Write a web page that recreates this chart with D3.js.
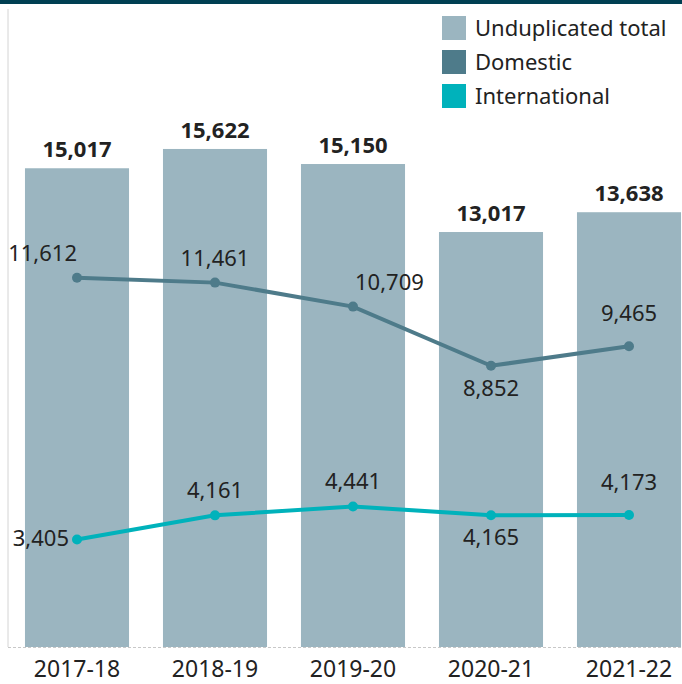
<!DOCTYPE html>
<html>
<head>
<meta charset="utf-8">
<script src="https://cdn.jsdelivr.net/npm/d3@7"></script>
<style>
  body { margin: 0; background: #fff; }
  svg { display: block; font-family: 'Noto Sans', sans-serif; }
</style>
</head>
<body>
<svg id="chart"></svg>
<script>
const years = ['2017-18', '2018-19', '2019-20', '2020-21', '2021-22'];
const totals = [15017, 15622, 15150, 13017, 13638];
const domestic = [11612, 11461, 10709, 8852, 9465];
const international = [3405, 4161, 4441, 4165, 4173];
const legendLabels = ['Unduplicated total', 'Domestic', 'International'];

// where each line label sits relative to its point
const domesticPlace = ['aboveLeft', 'above', 'aboveRight', 'below', 'aboveHigh'];
const intlPlace = ['left', 'above', 'above', 'below', 'aboveHigh'];

const COLORS = { bar: '#9bb5c0', dom: '#4e7b8a', intl: '#00b2bb', top: '#003f52', text: '#222' };

const width = 682, height = 684;
const baseY = 647, axisX = 8;

const svg = d3.select('#chart').attr('width', width).attr('height', height);

// top banner
svg.append('rect').attr('x', 0).attr('y', 0).attr('width', width).attr('height', 4).attr('fill', COLORS.top);

const x = d3.scaleBand().domain(years).range([axisX, axisX + 690]).paddingInner(0.246).paddingOuter(0.123);
const y = d3.scaleLinear().domain([0, 20000]).range([baseY, baseY - 637.6]);

// left axis line
svg.append('line')
  .attr('x1', axisX).attr('x2', axisX)
  .attr('y1', 9).attr('y2', baseY)
  .attr('stroke', '#d4d4d4').attr('stroke-width', 1);

// bars
svg.selectAll('.bar')
  .data(totals)
  .enter()
  .append('rect')
  .attr('x', (d, i) => x(years[i]))
  .attr('width', x.bandwidth())
  .attr('y', d => y(d))
  .attr('height', d => baseY - y(d))
  .attr('fill', COLORS.bar);

// baseline
svg.append('line')
  .attr('x1', axisX).attr('x2', width)
  .attr('y1', baseY + 0.5).attr('y2', baseY + 0.5)
  .attr('stroke', '#c8c8c8').attr('stroke-dasharray', '3,2');

// bar totals
svg.selectAll('.total')
  .data(totals)
  .enter()
  .append('text')
  .attr('x', (d, i) => x(years[i]) + x.bandwidth() / 2)
  .attr('y', d => y(d) - 11)
  .attr('text-anchor', 'middle')
  .attr('font-size', 22)
  .attr('font-weight', 'bold')
  .attr('fill', COLORS.text)
  .text(d3.format(','));

// x axis
const xAxis = svg.append('g')
  .attr('transform', 'translate(0,' + baseY + ')')
  .call(d3.axisBottom(x).tickSize(0).tickPadding(14));
xAxis.select('.domain').remove();
xAxis.selectAll('text')
  .attr('font-family', "'Noto Sans', sans-serif")
  .attr('font-size', 23)
  .attr('fill', COLORS.text);

const cx = i => x(years[i]) + x.bandwidth() / 2;

const drawLine = (values, color, places) => {
  svg.append('path')
    .datum(values)
    .attr('fill', 'none')
    .attr('stroke', color)
    .attr('stroke-width', 4)
    .attr('d', d3.line().x((d, i) => cx(i)).y(d => y(d) + 1));

  svg.selectAll(null)
    .data(values)
    .enter()
    .append('circle')
    .attr('cx', (d, i) => cx(i))
    .attr('cy', d => y(d) + 1)
    .attr('r', 5)
    .attr('fill', color);

  svg.selectAll(null)
    .data(values)
    .enter()
    .append('text')
    .attr('font-size', 22)
    .attr('fill', COLORS.text)
    .attr('x', (d, i) => {
      const p = places[i];
      if (p === 'left') return cx(i) - 8;
      if (p === 'aboveLeft') return cx(i);
      if (p === 'aboveRight') return cx(i) + 2;
      return cx(i);
    })
    .attr('y', (d, i) => {
      const p = places[i];
      if (p === 'left') return y(d) + 8;
      if (p === 'below') return y(d) + 31;
      if (p === 'aboveHigh') return y(d) - 24;
      return y(d) - 16;
    })
    .attr('text-anchor', (d, i) => {
      const p = places[i];
      if (p === 'left' || p === 'aboveLeft') return 'end';
      if (p === 'aboveRight') return 'start';
      return 'middle';
    })
    .text(d3.format(','));
};

drawLine(domestic, COLORS.dom, domesticPlace);
drawLine(international, COLORS.intl, intlPlace);

// legend
const legendColors = [COLORS.bar, COLORS.dom, COLORS.intl];
const legend = svg.append('g').attr('transform', 'translate(442,16)');
legend.selectAll('rect')
  .data(legendLabels)
  .enter()
  .append('rect')
  .attr('x', 0)
  .attr('y', (d, i) => i * 34)
  .attr('width', 24).attr('height', 24)
  .attr('fill', (d, i) => legendColors[i]);
legend.selectAll('text')
  .data(legendLabels)
  .enter()
  .append('text')
  .attr('x', 33)
  .attr('y', (d, i) => i * 34 + 20)
  .attr('font-size', 22)
  .attr('fill', COLORS.text)
  .text(d => d);
</script>
</body>
</html>
